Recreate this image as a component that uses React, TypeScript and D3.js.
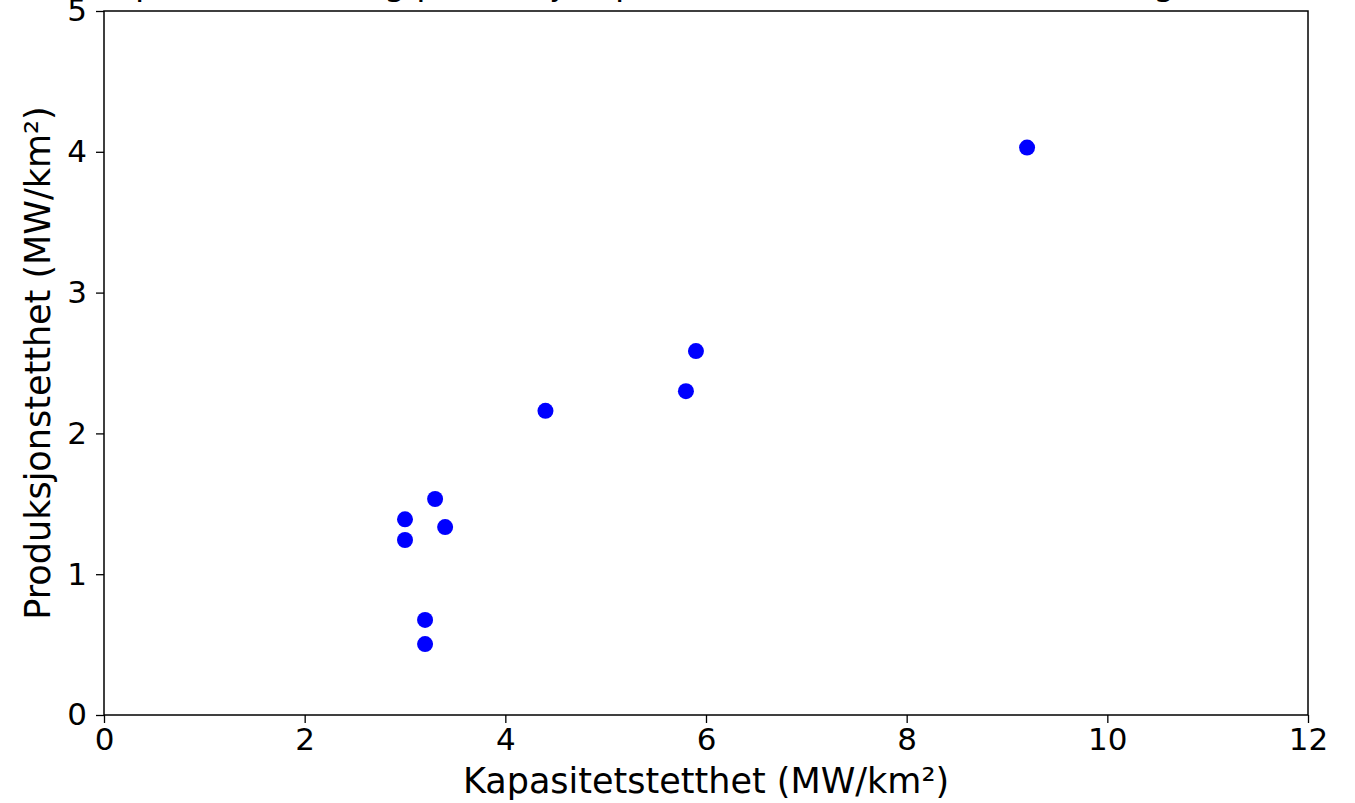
import React, { useEffect, useRef } from "react";
import * as d3 from "d3";

// kapasitetstetthet (MW/km²) og produksjonstetthet (MW/km²) per anlegg
const kapasitet = [9.2, 5.9, 5.8, 4.4, 3.3, 3.0, 3.4, 3.0, 3.2, 3.2];
const produksjon = [4.03, 2.585, 2.3, 2.16, 1.534, 1.39, 1.335, 1.243, 0.675, 0.504];
const xTicks = [0, 2, 4, 6, 8, 10, 12];
const yTicks = [0, 1, 2, 3, 4, 5];

const title = "Kapasitet (MW) og produksjon per areal for vindkraftverk i Norge (2020)";

const App = () => {
  const ref = useRef<SVGSVGElement>(null);

  useEffect(() => {
    const width = 1355;
    const height = 803;
    const m = { left: 104, right: 1308, top: 11, bottom: 715 };
    const font = "'DejaVu Sans', sans-serif";

    const svg = d3.select(ref.current);
    svg.selectAll("*").remove();
    svg.attr("width", width).attr("height", height);

    const x = d3.scaleLinear().domain([0, 12]).range([m.left, m.right]);
    const y = d3.scaleLinear().domain([0, 5]).range([m.bottom, m.top]);

    // title, mostly cut off above the picture
    svg
      .append("text")
      .attr("x", (m.left + m.right) / 2)
      .attr("y", -5)
      .attr("text-anchor", "middle")
      .style("font-family", font)
      .style("font-size", "34px")
      .attr("fill", "#000")
      .text(title);

    const xAxis = svg
      .append("g")
      .attr("transform", `translate(0,${m.bottom})`)
      .call(d3.axisBottom(x).tickValues(xTicks).tickFormat(d3.format("d")).tickSize(8).tickPadding(5));
    const yAxis = svg
      .append("g")
      .attr("transform", `translate(${m.left},0)`)
      .call(d3.axisLeft(y).tickValues(yTicks).tickFormat(d3.format("d")).tickSize(8).tickPadding(9));

    [xAxis, yAxis].forEach((g) => {
      g.select(".domain").remove();
      g.selectAll("line").attr("stroke", "#000").attr("stroke-width", 1.3);
      g.selectAll("text")
        .style("font-family", font)
        .style("font-size", "31px")
        .attr("fill", "#000");
    });

    svg
      .append("rect")
      .attr("x", m.left)
      .attr("y", m.top)
      .attr("width", m.right - m.left)
      .attr("height", m.bottom - m.top)
      .attr("fill", "none")
      .attr("stroke", "#000")
      .attr("stroke-width", 1.5);

    svg
      .append("g")
      .selectAll("circle")
      .data(kapasitet.map((k, i) => ({ k, p: produksjon[i] })))
      .join("circle")
      .attr("cx", (d) => x(d.k))
      .attr("cy", (d) => y(d.p))
      .attr("r", 8)
      .attr("fill", "#0000ff");

    svg
      .append("text")
      .attr("x", (m.left + m.right) / 2)
      .attr("y", 793)
      .attr("text-anchor", "middle")
      .style("font-family", font)
      .style("font-size", "35px")
      .text("Kapasitetstetthet (MW/km²)");

    svg
      .append("text")
      .attr("transform", `translate(50,${(m.top + m.bottom) / 2}) rotate(-90)`)
      .attr("text-anchor", "middle")
      .style("font-family", font)
      .style("font-size", "35px")
      .text("Produksjonstetthet (MW/km²)");
  });

  return (
    <svg
      ref={ref}
      style={{ position: "absolute", left: 0, top: 0, background: "#fff" }}
    ></svg>
  );
};

export default App;
